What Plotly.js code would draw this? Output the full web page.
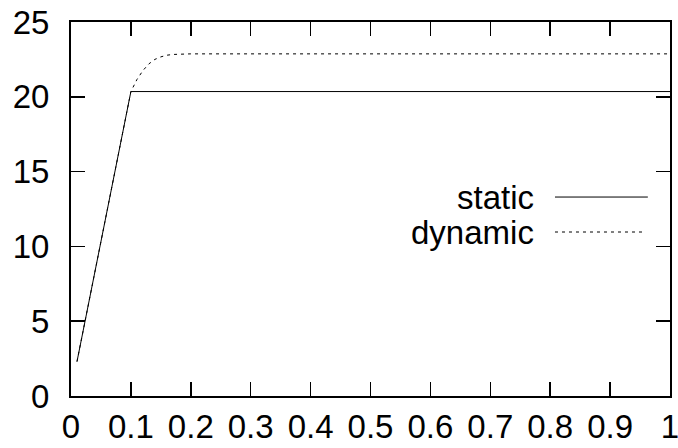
<!DOCTYPE html>
<html><head><meta charset="utf-8">
<script src="https://cdn.plot.ly/plotly-3.0.1.min.js"></script>
<style>html,body{margin:0;padding:0;background:#fff}#chart{width:678px;height:448px}</style>
</head><body><div id="chart"></div>
<script>
const staticX = [0.01, 0.1, 1.0];
const staticY = [2.3, 20.35, 20.35];
const dynamicX = [0.01, 0.1, 0.11, 0.12, 0.13, 0.14, 0.15, 0.16, 0.17, 0.18, 0.2, 1.0];
const dynamicY = [2.3, 20.35, 21.15, 21.75, 22.2, 22.5, 22.67, 22.78, 22.83, 22.86, 22.87, 22.87];
const seriesNames = ['static', 'dynamic'];
const xTickVals = [0, 0.1, 0.2, 0.3, 0.4, 0.5, 0.6, 0.7, 0.8, 0.9, 1];
const xTickText = ['0', '0.1', '0.2', '0.3', '0.4', '0.5', '0.6', '0.7', '0.8', '0.9', '1'];
const yTickVals = [0, 5, 10, 15, 20, 25];
const yTickText = ['0', '5', '10', '15', '20', '25'];

const FONT = 'Liberation Sans, Arial, sans-serif';
const FS = 33;
const traces = [
  {x: staticX, y: staticY, mode: 'lines', name: seriesNames[0], line: {color: '#000', width: 1}, showlegend: false},
  {x: dynamicX, y: dynamicY, mode: 'lines', name: seriesNames[1], line: {color: '#000', width: 1, dash: '3px,4px'}, showlegend: false}
];
const axisCommon = {
  showgrid: false, zeroline: false, showline: true, linecolor: '#000', linewidth: 2,
  mirror: 'ticks', ticks: 'inside', ticklen: 14, tickwidth: 1.5, tickcolor: '#000',
  tickfont: {family: FONT, size: FS, color: '#000'}, tickmode: 'array', ticklabeloverflow: 'allow'
};
const layout = {
  width: 678, height: 448,
  margin: {l: 71, r: 8, t: 22, b: 52},
  paper_bgcolor: '#fff', plot_bgcolor: '#fff',
  xaxis: Object.assign({}, axisCommon, {range: [0, 1], tickvals: xTickVals, ticktext: xTickText, ticklabelstandoff: 0}),
  yaxis: Object.assign({}, axisCommon, {range: [0, 25], tickvals: yTickVals, ticktext: yTickText, ticklabelstandoff: 13}),
  annotations: [
    {xref: 'paper', yref: 'paper', x: 0.777, y: 0.532, xanchor: 'right', yanchor: 'middle', text: seriesNames[0], showarrow: false, font: {family: FONT, size: FS, color: '#000'}},
    {xref: 'paper', yref: 'paper', x: 0.777, y: 0.4385, xanchor: 'right', yanchor: 'middle', text: seriesNames[1], showarrow: false, font: {family: FONT, size: FS, color: '#000'}}
  ],
  shapes: [
    {type: 'line', xref: 'paper', yref: 'paper', x0: 0.808, x1: 0.963, y0: 0.532, y1: 0.532, line: {color: '#000', width: 1}},
    {type: 'line', xref: 'paper', yref: 'paper', x0: 0.808, x1: 0.955, y0: 0.4385, y1: 0.4385, line: {color: '#000', width: 1, dash: '3px,4px'}}
  ],
  showlegend: false
};
Plotly.newPlot('chart', traces, layout, {displayModeBar: false, staticPlot: true});
</script></body></html>
